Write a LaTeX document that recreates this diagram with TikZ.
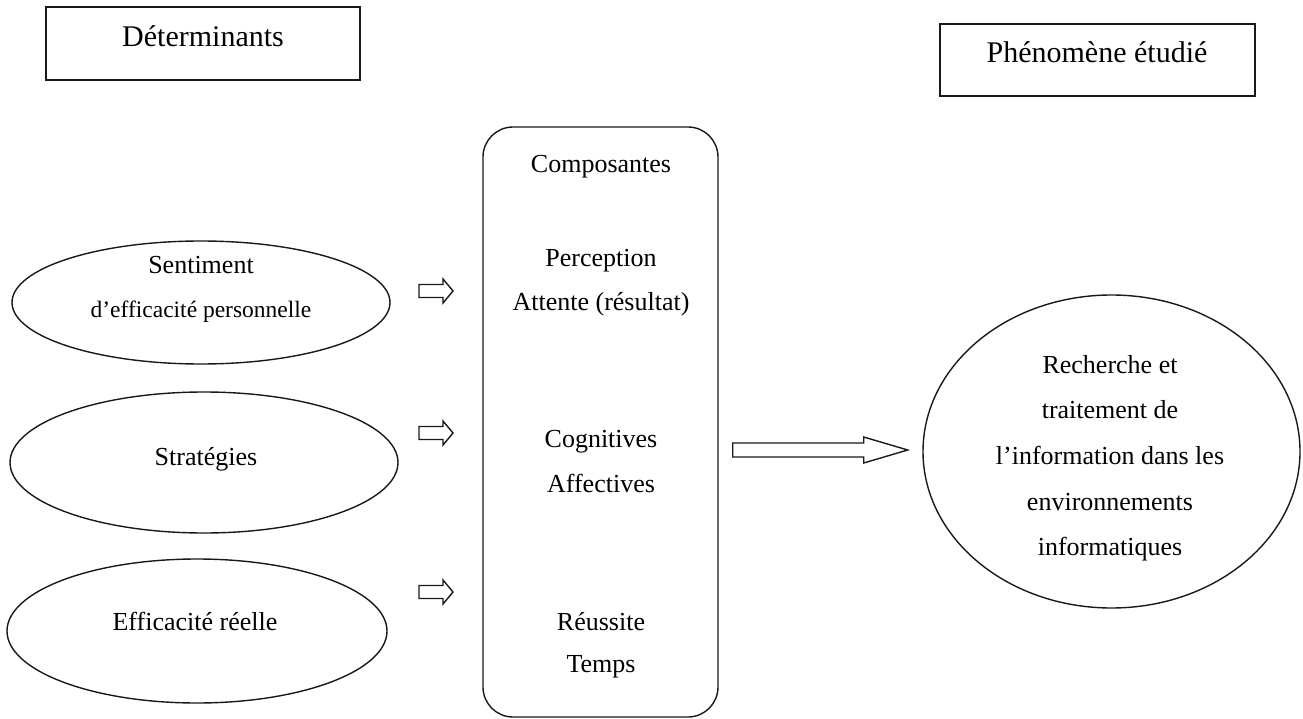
\documentclass[tikz,border=0pt]{standalone}
\usepackage{fontspec}
\setmainfont{Liberation Serif}
\usetikzlibrary{shapes.geometric}
\tikzset{
  lw/.style={line width=1.4pt, draw=black!90},
  hdrbox/.style={lw, rectangle, inner sep=0pt},
  ovalbox/.style={lw, ellipse, inner sep=0pt},
  txt/.style={inner sep=0pt, anchor=base, font=\fontsize{26}{30}\selectfont},
  hdrtxt/.style={inner sep=0pt, anchor=base, font=\fontsize{30}{34}\selectfont},
  blk/.style={lw, line join=miter, fill=white}
}
\begin{document}
\begin{tikzpicture}[x=1pt,y=-1pt]
\useasboundingbox (0,0) rectangle (1303,719);
\fill[white] (0,0) rectangle (1303,719);
% header boxes
\node[hdrbox, minimum width=314pt, minimum height=73pt] (det) at (203,43.5) {};
\node[hdrtxt] (dett) at (203,47) {Déterminants};
\node[hdrbox, minimum width=315pt, minimum height=72pt] (phe) at (1097.5,60) {};
\node[hdrtxt] (phet) at (1097,63) {Phénomène étudié};
% central rounded box
\node[lw, rectangle, rounded corners=30pt, minimum width=235pt, minimum height=590pt, inner sep=0pt] (comp) at (600.5,422) {};
\node[txt] (c0) at (601,173) {Composantes};
\node[txt] (c1) at (601,267) {Perception};
\node[txt] (c2) at (601,310) {Attente (résultat)};
\node[txt] (c3) at (601,447) {Cognitives};
\node[txt] (c4) at (601,492) {Affectives};
\node[txt] (c5) at (601,630) {Réussite};
\node[txt] (c6) at (601,672) {Temps};
% left ellipses
\node[ovalbox, minimum width=378pt, minimum height=123pt] (e1) at (201,302.5) {};
\node[txt] (e1a) at (201,273) {Sentiment};
\node[txt, font=\fontsize{23.5}{28}\selectfont] (e1b) at (201,317) {d’efficacité personnelle};
\node[ovalbox, minimum width=388pt, minimum height=141pt] (e2) at (204,462.5) {};
\node[txt] (e2a) at (206,465) {Stratégies};
\node[ovalbox, minimum width=380pt, minimum height=144pt] (e3) at (197,631) {};
\node[txt] (e3a) at (195,630) {Efficacité réelle};
% right ellipse
\node[ovalbox, minimum width=377pt, minimum height=313pt] (res) at (1111.5,451.5) {};
\node[txt] (r1) at (1110,373) {Recherche et};
\node[txt] (r2) at (1110,418) {traitement de};
\node[txt] (r3) at (1110,464) {l’information dans les};
\node[txt] (r4) at (1110,510) {environnements};
\node[txt] (r5) at (1110,555) {informatiques};
% small block arrows
\coordinate (a1) at (419,291);
\coordinate (a2) at (419,433);
\coordinate (a3) at (419,592);
\draw[blk] (a1) ++(0,-6.5) -- ++(24,0) -- ++(0,-5.5) -- ++(10,12) -- ++(-10,12) -- ++(0,-5.5) -- ++(-24,0) -- cycle;
\draw[blk] (a2) ++(0,-6.5) -- ++(24,0) -- ++(0,-5.5) -- ++(10,12) -- ++(-10,12) -- ++(0,-5.5) -- ++(-24,0) -- cycle;
\draw[blk] (a3) ++(0,-6.5) -- ++(24,0) -- ++(0,-5.5) -- ++(10,12) -- ++(-10,12) -- ++(0,-5.5) -- ++(-24,0) -- cycle;
% big block arrow from box to phenomenon
\coordinate (b0) at ([xshift=14pt, yshift=-28pt]comp.east);
\draw[blk] (b0) ++(0,-7) -- ++(131,0) -- ++(0,-6) -- ++(44,13) -- ++(-44,13) -- ++(0,-6) -- ++(-131,0) -- cycle;
\end{tikzpicture}
\end{document}
